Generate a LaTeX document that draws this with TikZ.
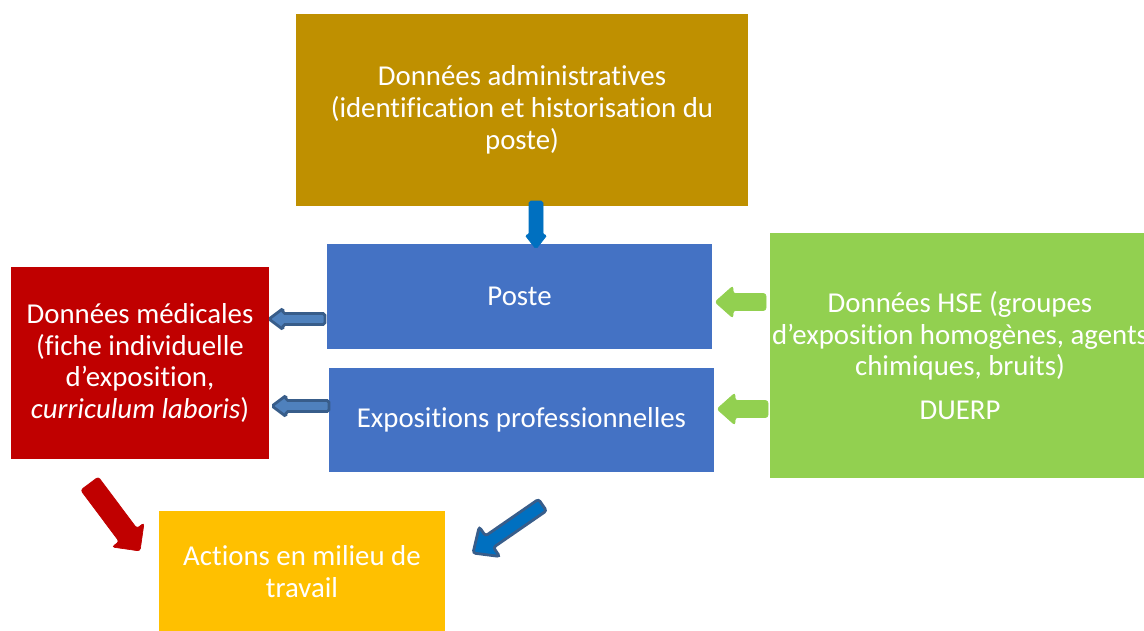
\documentclass[tikz,border=0pt]{standalone}
\usepackage{fontspec}
\setmainfont{Carlito}[Ligatures=NoCommon]
\usetikzlibrary{calc,positioning}
\definecolor{gold}{HTML}{BF9000}
\definecolor{bleu}{HTML}{4472C4}
\definecolor{rouge}{HTML}{C00000}
\definecolor{vert}{HTML}{92D050}
\definecolor{jaune}{HTML}{FFC000}
\definecolor{bleufl}{HTML}{0070C0}
\definecolor{bleuclair}{HTML}{4F81BD}
\definecolor{bleubord}{HTML}{385D8A}
\tikzset{bloc/.style={rectangle, inner sep=0pt, outer sep=0pt, align=center, text=white,
        font=\fontsize{16.4pt}{18.1pt}\selectfont}}
% block arrow: [style]{tail}{tip}{half shaft}{half head}{head length}
\newcommand{\blocarrow}[6][]{%
    \coordinate (neck) at ($(#3)!#6!(#2)$);
    \draw[#1] ($(#2)!#4!90:(#3)$) -- ($(neck)!#4!90:(#3)$) -- ($(neck)!#5!90:(#3)$)
        -- (#3) -- ($(neck)!#5!-90:(#3)$) -- ($(neck)!#4!-90:(#3)$) -- ($(#2)!#4!-90:(#3)$) -- cycle;
}

\begin{document}
\begin{tikzpicture}[x=0.02cm, y=-0.02cm]
                        \useasboundingbox (0, 0) rectangle (1144, 630);
                        \clip (0, 0) rectangle (1144, 630);

                        \node[bloc, fill=gold, minimum width=9.04cm, minimum height=3.84cm] (admin) at (522, 110)
                            {Données administratives\\(identification et historisation du\\poste)};
                        \node[bloc, fill=bleu, minimum width=7.7cm, minimum height=2.1cm] (poste) at (519.5, 296.5) {Poste};
                        \node[bloc, fill=bleu, minimum width=7.7cm, minimum height=2.08cm] (expo) at (521.5, 420) {Expositions professionnelles};
                        \node[bloc, fill=rouge, minimum width=5.16cm, minimum height=3.84cm] (medic) at (140, 363)
                            {Données médicales\\(fiche individuelle\\d’exposition,\\\textit{curriculum laboris})};
                        \node[bloc, fill=vert, minimum width=7.6cm, minimum height=4.9cm] (hse) at (960, 355.5)
                            {Données HSE (groupes\\d’exposition homogènes, agents\\chimiques, bruits)\\[0.24cm]DUERP};
                        \node[bloc, fill=jaune, minimum width=5.72cm, minimum height=2.42cm] (actions) at (302, 571.5)
                            {Actions en milieu de\\travail};

                        % arrow ends
                        \coordinate (adminout) at (536, 201);
                        \coordinate (postein) at (536, 249);
                        \coordinate (posteout) at (325, 319);
                        \coordinate (medicin1) at (269, 319);
                        \coordinate (expoout) at (329, 406);
                        \coordinate (medicin2) at (272, 406);
                        \coordinate (hseout1) at (766, 302);
                        \coordinate (postein2) at (715, 302);
                        \coordinate (hseout2) at (768, 409);
                        \coordinate (expoin) at (717, 409);
                        \coordinate (medicout) at (89.5, 483.5);
                        \coordinate (actionsin1) at (140, 551);
                        \coordinate (expoout2) at (542.5, 505);
                        \coordinate (actionsin2) at (473, 553);

                        \blocarrow[fill=bleufl, draw=bleufl, rounded corners=1pt]{adminout}{postein}{1.4mm}{2.2mm}{2.8mm}
                        \blocarrow[fill=bleuclair, draw=bleubord, line width=1.6pt, rounded corners=1pt]{posteout}{medicin1}{1.1mm}{2.1mm}{2.8mm}
                        \blocarrow[fill=bleuclair, draw=bleubord, line width=1.6pt, rounded corners=1pt]{expoout}{medicin2}{1.1mm}{2.1mm}{2.8mm}
                        \blocarrow[fill=vert, draw=vert, rounded corners=1.5pt]{hseout1}{postein2}{1.7mm}{3.2mm}{3.6mm}
                        \blocarrow[fill=vert, draw=vert, rounded corners=1.5pt]{hseout2}{expoin}{1.7mm}{3.2mm}{3.6mm}
                        \blocarrow[fill=rouge, draw=rouge, rounded corners=1.5pt]{medicout}{actionsin1}{2.2mm}{4mm}{4mm}
                        \blocarrow[fill=bleufl, draw=bleubord, line width=1.6pt, rounded corners=1.5pt]{expoout2}{actionsin2}{1.4mm}{3.6mm}{4mm}
                    \end{tikzpicture}
\end{document}
